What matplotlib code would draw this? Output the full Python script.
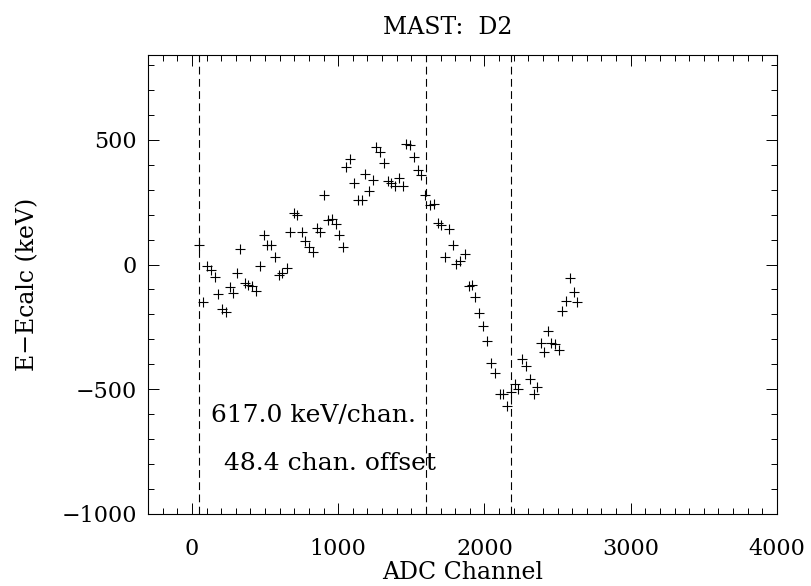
import numpy as np
import matplotlib
matplotlib.use("Agg")
import matplotlib.pyplot as plt
from matplotlib.ticker import MultipleLocator

# ADC channel of each calibration line
channel = [48, 73, 105, 128, 156, 178, 206, 231, 261, 283,
           309, 331, 361, 384, 414, 437, 464, 492, 516, 540,
           569, 595, 619, 647, 670, 696, 719, 750, 773, 800,
           828, 853, 878, 901, 928, 955, 983, 1008, 1036, 1051,
           1080, 1109, 1134, 1161, 1185, 1212, 1236, 1257, 1285, 1312,
           1340, 1364, 1390, 1416, 1444, 1466, 1490, 1518, 1545, 1567,
           1596, 1629, 1653, 1680, 1703, 1733, 1755, 1785, 1807, 1836,
           1864, 1892, 1914, 1938, 1962, 1991, 2019, 2046, 2073, 2104,
           2128, 2152, 2181, 2207, 2231, 2255, 2282, 2309, 2337, 2362,
           2385, 2410, 2435, 2458, 2483, 2513, 2533, 2560, 2588, 2615,
           2632]

# E - Ecalc residual (keV)
resid = [80, -151, -7, -20, -48, -120, -180, -191, -91, -115,
         -35, 63, -73, -80, -84, -108, -4, 117, 79, 80,
         29, -40, -35, -15, 132, 208, 198, 129, 93, 72,
         52, 148, 131, 279, 179, 183, 161, 120, 72, 392,
         422, 326, 259, 259, 364, 294, 340, 471, 451, 409,
         337, 327, 315, 349, 317, 485, 480, 431, 380, 359,
         277, 239, 243, 165, 157, 30, 141, 79, 4, 16,
         43, -87, -82, -129, -193, -248, -305, -393, -433, -521,
         -521, -568, -513, -481, -501, -380, -408, -457, -521, -493,
         -313, -351, -265, -313, -319, -341, -187, -147, -53, -109,
         -151]

vlines = [48.4, 1600, 2180]
gain = 617.0
offset = 48.4

plt.rcParams['font.family'] = ['DejaVu Serif']

fig = plt.figure(figsize=(8.11, 5.86), dpi=100)
ax = fig.add_axes([0.1825, 0.123, 0.7755, 0.783])

ax.plot(channel, resid, 'k+', ms=7, mew=0.8)
for xv in vlines:
    ax.axvline(xv, color='k', lw=0.8, ls=(0, (7, 4)))

ax.set_xlim(-300, 4000)
ax.set_ylim(-1000, 840)
ax.xaxis.set_major_locator(MultipleLocator(1000))
ax.xaxis.set_minor_locator(MultipleLocator(100))
ax.yaxis.set_major_locator(MultipleLocator(500))
ax.yaxis.set_minor_locator(MultipleLocator(100))
ax.tick_params(which='both', direction='in', top=True, right=True, width=0.7)
ax.tick_params(which='major', length=8, labelsize=16)
ax.tick_params(which='minor', length=4)
ax.tick_params(axis='x', which='major', pad=17)
ax.tick_params(axis='y', which='major', pad=8)
for s in ax.spines.values():
    s.set_linewidth(0.8)

ax.text(130, -604, f'{gain:.1f} keV/chan.', fontsize=18, va='center', ha='left')
ax.text(220, -796, f'{offset:.1f} chan. offset', fontsize=18, va='center', ha='left')

ax.set_xlabel('ADC Channel', fontsize=17, labelpad=1)
ax.set_ylabel('E\u2212Ecalc (keV)', fontsize=17, labelpad=16)
fig.text(0.552, 0.953, 'MAST:  D2', fontsize=17, ha='center', va='center')

fig.savefig('out.png', dpi=100)
